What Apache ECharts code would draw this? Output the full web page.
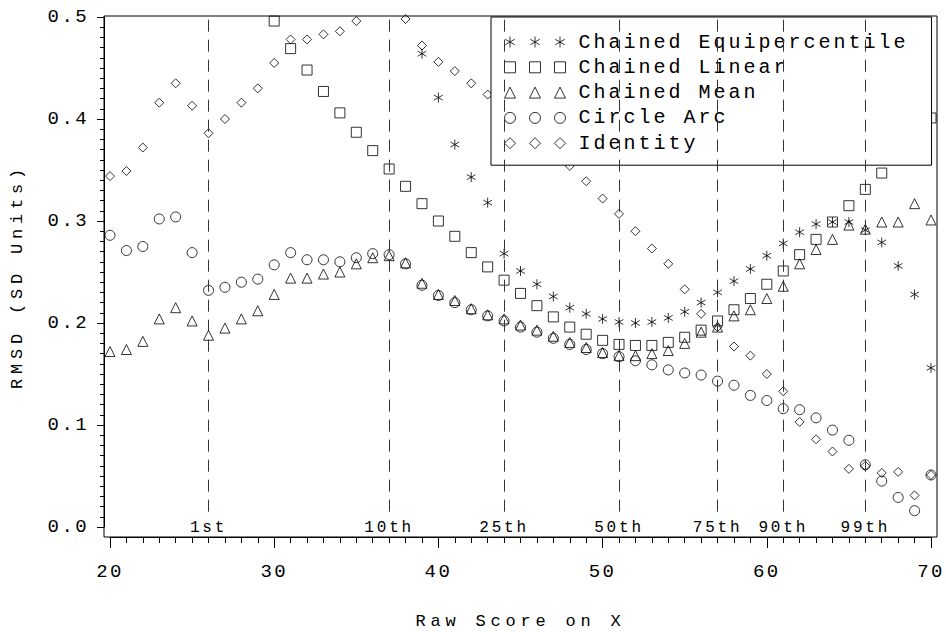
<!DOCTYPE html>
<html>
<head>
<meta charset="utf-8">
<script src="https://cdn.jsdelivr.net/npm/echarts@6/dist/echarts.min.js"></script>
<style>
html,body{margin:0;padding:0;background:#fff;}
#c{width:946px;height:632px;}
/* emulate the wide letter pitch of the original monospace font */
#c text[style*="19px"]{letter-spacing:2.4px;}
#c text[style*="20px"]{letter-spacing:3px;}
#c text[style*="17px"]{letter-spacing:4.8px;}
#c text[style*="16px"]{letter-spacing:2.8px;}
</style>
</head>
<body>
<div id="c"></div>
<script>
// ---------- data ----------
const scores = [20,21,22,23,24,25,26,27,28,29,30,31,32,33,34,35,36,37,38,39,40,41,42,43,44,45,46,47,48,49,50,51,52,53,54,55,56,57,58,59,60,61,62,63,64,65,66,67,68,69,70];

const chainedEquipercentile = [
  null,null,null,null,null,null,null,null,null,null,
  null,null,null,null,null,null,null,null,null,
  0.464,0.421,0.375,0.343,0.318,
  0.268,0.251,0.238,0.226,0.215,
  0.209,0.204,0.201,0.200,0.201,
  0.205,0.211,0.220,0.230,0.241,
  0.253,0.266,0.278,0.289,0.297,
  0.299,0.299,0.291,0.279,0.256,
  0.228,0.156];

const chainedLinear = [
  null,null,null,null,null,null,null,null,null,null,
  0.496,0.469,0.448,0.427,0.406,
  0.387,0.369,0.351,0.334,0.317,
  0.300,0.285,0.269,0.255,0.242,
  0.229,0.217,0.206,0.196,0.189,
  0.183,0.179,0.178,0.178,0.181,
  0.186,0.193,0.202,0.213,0.224,
  0.238,0.251,0.267,0.282,0.299,
  0.315,0.331,0.347,0.365,0.383,
  0.401];

const chainedMean = [
  0.172,0.174,0.182,0.204,0.215,
  0.202,0.188,0.195,0.204,0.212,
  0.228,0.244,0.244,0.248,0.250,
  0.258,0.264,0.266,0.259,0.239,
  0.228,0.222,0.214,0.208,0.204,
  0.198,0.193,0.187,0.181,0.176,
  0.171,0.168,0.168,0.170,0.173,
  0.180,0.191,0.196,0.207,0.213,
  0.224,0.236,0.258,0.272,0.282,
  0.296,0.292,0.299,0.299,0.317,
  0.301];

const circleArc = [
  0.286,0.271,0.275,0.302,0.304,
  0.269,0.232,0.235,0.240,0.243,
  0.257,0.269,0.262,0.262,0.260,
  0.264,0.268,0.267,0.258,0.237,
  0.227,0.220,0.213,0.207,0.202,
  0.196,0.191,0.185,0.179,0.174,
  0.170,0.167,0.163,0.159,0.154,
  0.151,0.149,0.143,0.139,0.129,
  0.124,0.116,0.115,0.107,0.095,
  0.085,0.061,0.045,0.029,0.016,
  0.051];

const identity = [
  0.344,0.349,0.372,0.416,0.435,
  0.413,0.386,0.400,0.416,0.430,
  0.455,0.478,0.478,0.483,0.486,
  0.496,null,null,0.498,0.472,
  0.456,0.447,0.435,0.424,0.410,
  0.396,0.382,0.368,0.354,0.339,
  0.322,0.307,0.290,0.273,0.258,
  0.233,0.209,0.196,0.177,0.168,
  0.150,0.133,0.103,0.086,0.074,
  0.057,0.060,0.053,0.054,0.031,
  0.051];

const percentileScores = [26,37,44,51,57,61,66];
const percentileLabels = ['1st','10th','25th','50th','75th','90th','99th'];

const seriesNames = ['Chained Equipercentile','Chained Linear','Chained Mean','Circle Arc','Identity'];

// ---------- styling ----------
const FONT = 'Liberation Mono';
const INK = '#000';
const ASTERISK = 'path://M0,-5L0,5M-4.33,-2.5L4.33,2.5M-4.33,2.5L4.33,-2.5';

function triple(fn){ return 'path://' + [0,25,50].map(fn).join(''); }
const legendIcons = [
  triple(o => `M${o+5.5},0L${o+5.5},11M${o+0.74},2.75L${o+10.26},8.25M${o+0.74},8.25L${o+10.26},2.75`),
  triple(o => `M${o},0L${o+11},0L${o+11},11L${o},11Z`),
  triple(o => `M${o+5.5},0L${o+11},11L${o},11Z`),
  triple(o => `M${o+11},5.5A5.5,5.5,0,1,1,${o},5.5A5.5,5.5,0,1,1,${o+11},5.5Z`),
  triple(o => `M${o+5.5},0L${o+11},5.5L${o+5.5},11L${o},5.5Z`)
];

const seriesValues = [chainedEquipercentile, chainedLinear, chainedMean, circleArc, identity];
const seriesSymbols = [ASTERISK, 'rect', 'triangle', 'circle', 'diamond'];
const seriesSizes = [10, 10, 10, 10, 9];

const itemStyle = {color:'rgba(0,0,0,0)', borderColor:INK, borderWidth:1};

const series = seriesNames.map((name, k) => ({
  name,
  type: 'scatter',
  xAxisIndex: 1,
  yAxisIndex: 1,
  clip: false,
  symbol: seriesSymbols[k],
  symbolSize: seriesSizes[k],
  symbolKeepAspect: true,
  itemStyle,
  emphasis: {disabled: true},
  silent: true,
  data: scores.map((x, i) => [x, seriesValues[k][i]]).filter(p => p[1] != null)
}));

series[0].markLine = {
  silent: true,
  symbol: ['none','none'],
  animation: false,
  lineStyle: {color: '#333', width: 1, type: [12, 8]},
  label: {show: true, position: 'start', distance: 8, formatter: '{b}',
          fontFamily: FONT, fontSize: 16, color: INK},
  emphasis: {disabled: true},
  data: percentileScores.map((x, i) => [
    {coord: [x, 0.015], name: percentileLabels[i]},
    {coord: [x, 0.5]}
  ])
};

const axisLineStyle = {show: true, onZero: false, lineStyle: {color: INK, width: 1}};

const chart = echarts.init(document.getElementById('c'), null, {renderer: 'svg'});
chart.setOption({
  animation: false,
  backgroundColor: '#fff',
  grid: [
    {left: 104, right: 9, top: 16, bottom: 95, outerBoundsMode: 'none', containLabel: false,
     show: true, borderColor: INK, borderWidth: 1, backgroundColor: 'transparent'},
    {left: 110, right: 15, top: 17, bottom: 105, outerBoundsMode: 'none', containLabel: false}
  ],
  xAxis: [
    {gridIndex: 0, type: 'value', show: false, min: 0, max: 1},
    {gridIndex: 1, type: 'value', min: 20, max: 70, interval: 10, position: 'bottom', offset: 10,
     axisLine: axisLineStyle,
     axisTick: {show: true, inside: false, length: 11, lineStyle: {color: INK, width: 1}},
     minorTick: {show: true, splitNumber: 10, length: 6, lineStyle: {color: INK, width: 1}},
     splitLine: {show: false},
     axisLabel: {margin: 25, fontFamily: FONT, fontSize: 19, color: INK},
     name: 'Raw Score on X', nameLocation: 'middle', nameGap: 76,
     nameTextStyle: {fontFamily: FONT, fontSize: 17, color: INK}}
  ],
  yAxis: [
    {gridIndex: 0, type: 'value', show: true, min: 0, max: 1, position: 'left',
     axisLine: {show: false, onZero: false}, axisTick: {show: false}, axisLabel: {show: false},
     splitLine: {show: false},
     name: 'RMSD (SD Units)', nameLocation: 'middle', nameGap: 78, nameRotate: 90,
     nameTextStyle: {fontFamily: FONT, fontSize: 17, color: INK}},
    {gridIndex: 1, type: 'value', min: 0, max: 0.5, interval: 0.1, position: 'left', offset: 6,
     axisLine: axisLineStyle,
     axisTick: {show: true, inside: false, length: 7, lineStyle: {color: INK, width: 1}},
     minorTick: {show: true, splitNumber: 10, length: 4, lineStyle: {color: INK, width: 1}},
     splitLine: {show: false},
     axisLabel: {margin: 15, fontFamily: FONT, fontSize: 19, color: INK, formatter: v => v.toFixed(1)}}
  ],
  legend: {
    orient: 'vertical',
    left: 491, top: 17,
    padding: [15, 89, 12, 13],
    backgroundColor: '#fff',
    borderColor: INK, borderWidth: 1,
    itemWidth: 61, itemHeight: 11, itemGap: 5.3,
    selectedMode: false,
    itemStyle: {color: 'rgba(0,0,0,0)', borderColor: INK, borderWidth: 1},
    textStyle: {fontFamily: FONT, fontSize: 20, lineHeight: 20, color: INK, padding: [0, 0, 0, 8]},
    data: seriesNames.map((n, k) => ({name: n, icon: legendIcons[k]}))
  },
  series
});
</script>
</body>
</html>
